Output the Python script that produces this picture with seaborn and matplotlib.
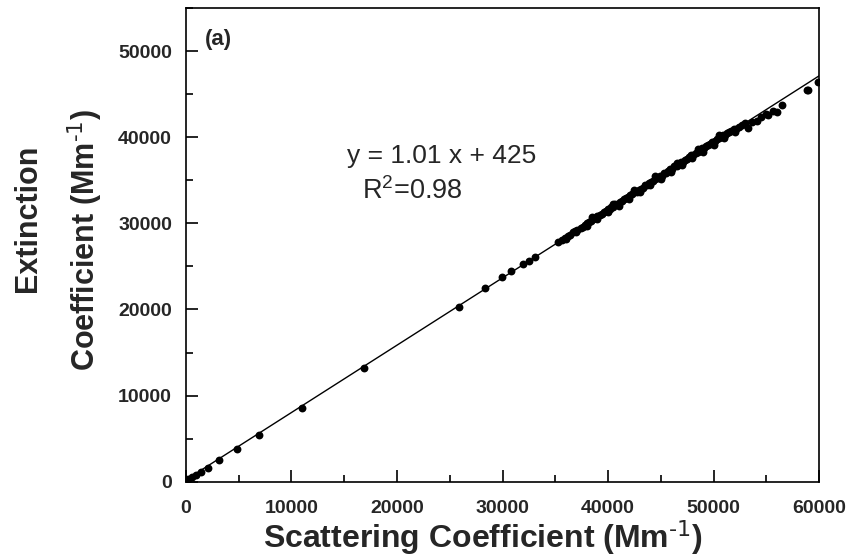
import matplotlib
matplotlib.use("Agg")
import matplotlib.pyplot as plt
import seaborn as sns
import pandas as pd
from matplotlib.ticker import MultipleLocator

# scattering vs extinction coefficient (Mm-1)
scattering = [
    50, 100, 220, 540, 920, 1390, 2050, 3160, 4800, 6920, 10970, 16900,
    25900, 28370, 29950, 30840, 31970, 32540, 33080,
    35300, 35600, 35900, 36200, 36400, 36700, 36900, 37100, 37400, 37600,
    37800, 38000, 38200, 38400, 38600, 38800, 39000, 39200, 39400, 39600,
    39800, 40000, 40150, 40300, 40500, 40700, 40900, 41100, 41300, 41500,
    41700, 41900, 42100, 42300, 42500, 42700, 42900, 43100, 43300, 43500,
    43700, 43900, 44100, 44300, 44500, 44700, 44900, 45100, 45300, 45500,
    45700, 45900, 46100, 46300, 46500, 46700, 46900, 47100, 47300, 47500,
    47700, 47900, 48100, 48300, 48500, 48700, 48900, 49100, 49300, 49500,
    49700, 49900, 50100, 50300, 50500, 50700, 50900, 51100, 51300, 51500,
    51700, 51900, 52100, 52400, 52700, 53000,
    36000, 37000, 38000, 39000, 40000, 41000, 42000, 43000, 44000, 45000,
    46000, 47000, 48000, 49000, 50000, 51000, 52000,
    38500, 40500, 42500, 44500, 46500, 48500, 50500,
    53300, 53600, 54100, 54500, 55000, 55200, 55600, 56000, 56460,
    58900, 59000, 59940,
]
extinction = [
    80, 150, 310, 510, 780, 1090, 1590, 2490, 3770, 5470, 8540, 13220,
    20230, 22490, 23720, 24420, 25310, 25660, 26090,
    27880, 28050, 28330, 28560, 28700, 28950, 29150, 29240, 29500, 29600,
    29820, 30050, 30150, 30300, 30540, 30620, 30850, 30950, 31100, 31320,
    31400, 31650, 31700, 31900, 31950, 32200, 32250, 32500, 32550, 32800,
    32900, 33050, 33300, 33350, 33600, 33650, 33900, 34000, 34150, 34400,
    34450, 34700, 34800, 34950, 35200, 35250, 35500, 35550, 35800, 35900,
    36050, 36300, 36350, 36600, 36700, 36850, 37100, 37150, 37400, 37500,
    37650, 37900, 37950, 38200, 38300, 38450, 38700, 38750, 39000, 39100,
    39250, 39500, 39550, 39800, 39850, 40050, 40250, 40300, 40500, 40600,
    40700, 40900, 41000, 41150, 41400, 41600,
    28150, 28950, 29700, 30500, 31300, 32050, 32850, 33650, 34400, 35200,
    35950, 36750, 37550, 38300, 39100, 39850, 40650,
    30700, 32300, 33900, 35480, 37060, 38650, 40250,
    41090, 41800, 41860, 42300, 42700, 42520, 43000, 42910, 43770,
    45450, 45470, 46400,
]

df = pd.DataFrame({"Scattering": scattering, "Extinction": extinction})

sns.set_style("ticks")
plt.rcParams["font.family"] = ["Liberation Sans", "DejaVu Sans"]
plt.rcParams["mathtext.default"] = "regular"

fig = plt.figure(figsize=(8.52, 5.6), dpi=100)
ax = fig.add_axes([0.2183, 0.1398, 0.7430, 0.8459])
ax.set_xlim(0, 60000)
ax.set_ylim(0, 55000)

sns.regplot(data=df, x="Scattering", y="Extinction", ci=None, truncate=False,
            scatter_kws=dict(s=32, color="black", linewidths=0, alpha=1),
            line_kws=dict(color="black", lw=1), ax=ax)

ax.xaxis.set_major_locator(MultipleLocator(10000))
ax.xaxis.set_minor_locator(MultipleLocator(5000))
ax.yaxis.set_major_locator(MultipleLocator(10000))
ax.yaxis.set_minor_locator(MultipleLocator(5000))
ax.tick_params(which="both", direction="in", top=False, right=False,
               width=1.2, color="black")
ax.tick_params(which="major", length=8.5, labelsize=14)
ax.tick_params(which="minor", length=5)
ax.tick_params(axis="y", pad=10)
ax.tick_params(axis="x", pad=13)
for lab in ax.get_xticklabels() + ax.get_yticklabels():
    lab.set_fontweight("bold")
for sp in ax.spines.values():
    sp.set_visible(True)
    sp.set_linewidth(1.2)
    sp.set_color("black")

ax.set_xlabel("")
ax.set_ylabel("")
fig.text(483 / 852, 1 - 548 / 560, r"Scattering Coefficient (Mm$^{\text{-1}}$)",
         fontsize=23, fontweight="bold", ha="center", va="baseline")
fig.text(28 / 852, 1 - 218 / 560, "Extinction", rotation=90, fontsize=22,
         fontweight="bold", ha="center", va="center")
fig.text(85 / 852, 1 - 240 / 560, r"Coefficient (Mm$^{\text{-1}}$)", rotation=90,
         fontsize=22, fontweight="bold", ha="center", va="center")

ax.text(205 / 852, 1 - 39 / 560, "(a)", transform=fig.transFigure, fontsize=16,
        fontweight="bold", va="center", ha="left")
ax.text(347 / 852, 1 - 156 / 560, "y = 1.01 x + 425", transform=fig.transFigure,
        fontsize=19, va="center", ha="left")
ax.text(362 / 852, 1 - 191 / 560, "R$^{2}$=0.98", transform=fig.transFigure,
        fontsize=19.5, va="center", ha="left")

fig.savefig("out.png", dpi=100)
